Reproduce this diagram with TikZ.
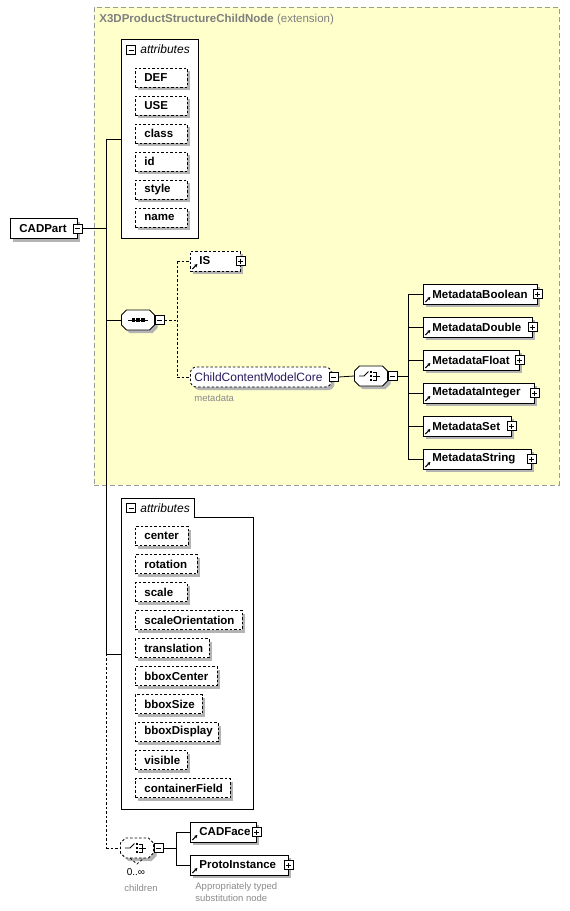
\documentclass[tikz,border=0pt]{standalone}
\usepackage{fontspec}
\setmainfont{Liberation Sans}
\usetikzlibrary{arrows.meta}
\definecolor{ylw}{HTML}{FFFFCC}
\definecolor{shd}{HTML}{B4B4B4}
\definecolor{gtxt}{HTML}{8A8A8A}
\definecolor{ttl}{HTML}{7F7F7F}
\definecolor{ccmc}{HTML}{2A1A5E}
\definecolor{yb}{HTML}{9A9A9A}
\newcommand\fb{\fontsize{11.5}{13}\selectfont\bfseries}
\newcommand\fsm{\fontsize{9.5}{11}\selectfont}
\newcommand\bxt[2]{\makebox[#1pt][l]{\hspace{9pt}#2}}
% attribute box: name, y, width, text
\newcommand\attbox[4]{%
  \node[shbx,minimum width=#3pt,minimum height=19pt] (#1s) at (138,#2+3) {};
  \node[attb] (#1) at (135,#2) {\bxt{#3}{#4}};}
% element box: name, x, y, width, text, style
\newcommand\eltbox[6]{%
  \node[shbx,minimum width=#4pt,minimum height=20pt] (#1s) at (#2+3,#3+3) {};
  \node[#6] (#1) at (#2,#3) {\bxt{#4}{#5}};
  \node[pmplus] (#1p) at (#1.east) {};}
\begin{document}
\begin{tikzpicture}[x=1pt,y=-1pt,line width=0.8pt,
  dsh/.style={dash pattern=on 2.5pt off 2pt},
  shbx/.style={fill=shd,draw=none,inner sep=0pt,anchor=west},
  topelt/.style={draw,fill=white,inner sep=0pt,minimum height=20pt,anchor=west,font=\fb},
  elt/.style={topelt,path picture={\draw[solid,line width=1pt,-{Stealth[length=3.2pt,width=3.4pt]}] ([shift={(2pt,2pt)}]path picture bounding box.south west) -- ++(5pt,5pt);}},
  attb/.style={draw,dsh,fill=white,inner sep=0pt,minimum height=19pt,anchor=west,font=\fb},
  pmbox/.style={draw,solid,fill=white,inner sep=0pt,minimum size=9pt,line width=0.7pt},
  pmminus/.style={pmbox,path picture={\draw ([xshift=2pt]path picture bounding box.west) -- ([xshift=-2pt]path picture bounding box.east);}},
  pmplus/.style={pmbox,path picture={\draw ([xshift=2pt]path picture bounding box.west) -- ([xshift=-2pt]path picture bounding box.east); \draw ([yshift=-2pt]path picture bounding box.north) -- ([yshift=2pt]path picture bounding box.south);}},
  comp/.style={inner sep=0pt,minimum width=33pt,minimum height=20pt},
  octp/.style={insert path={(-11.5,-10) -- (11.5,-10) -- (16.5,-5) -- (16.5,5) -- (11.5,10) -- (-11.5,10) -- (-16.5,5) -- (-16.5,-5) -- cycle}},
  gt/.style={font=\fsm,text=gtxt,inner sep=0pt,anchor=west},
  hdr/.style={font=\fontsize{12}{14}\selectfont\itshape,inner sep=0pt,anchor=west}
]
\useasboundingbox (0,0) rectangle (570,911);
% extension box
\node[draw=yb,dash pattern=on 5pt off 3pt,fill=ylw,inner sep=0pt,minimum width=465pt,minimum height=478pt,anchor=north west] (ext) at (94,7) {};
\node[inner sep=0pt,anchor=west,text=ttl] (exttitle) at (99,20) {\fb X3DProductStructureChildNode \fontsize{11.5}{13}\selectfont\mdseries(extension)};

% attributes group 1
\node[draw,fill=white,inner sep=0pt,minimum width=77pt,minimum height=199pt,anchor=north west] (att1) at (121,39) {};
\node[pmminus] (att1m) at (131,50) {};
\node[hdr] (att1h) at (140,49) {attributes};
\attbox{aDEF}{77.5}{52}{DEF}
\attbox{aUSE}{105.5}{52}{USE}
\attbox{aclass}{133.5}{52}{class}
\attbox{aid}{161.5}{52}{id}
\attbox{astyle}{189.5}{52}{style}
\attbox{aname}{217.5}{52}{name}

% CADPart
\node[shbx,minimum width=67pt,minimum height=20pt] (cads) at (13,231.5) {};
\node[topelt] (cad) at (10,228.5) {\bxt{67}{CADPart}};
\node[pmminus] (cadm) at (cad.east) {};

% sequence
\node[comp] (seq) at (138,320) {};
\begin{scope}[shift={(seq.center)}]
  \fill[shd,shift={(3,3)},octp];
  \draw[fill=white,octp];
  \draw (-10,0) -- (10,0);
  \fill (-6.5,-1.6) rectangle (-3.3,1.6);
  \fill (-1.6,-1.6) rectangle (1.6,1.6);
  \fill (3.3,-1.6) rectangle (6.5,1.6);
\end{scope}
\node[pmminus] (seqm) at ([xshift=5pt]seq.east) {};

% IS
\eltbox{is}{190}{261}{50}{IS}{elt,dsh}

% ChildContentModelCore
\node[shbx,rounded corners=6pt,minimum width=141pt,minimum height=20pt] (ccms) at (193,380) {};
\node[draw,dsh,fill=white,rounded corners=6pt,inner sep=0pt,minimum height=20pt,anchor=west,text=ccmc,font=\fontsize{12}{14}\selectfont] (ccm) at (190,377) {\makebox[141pt][l]{\hspace{4pt}ChildContentModelCore}};
\node[pmminus] (ccmm) at ([xshift=2pt]ccm.east) {};
\node[gt] (lmeta) at (194,398) {metadata};

% choice 1
\node[comp] (ch1) at (371,376) {};
\begin{scope}[shift={(ch1.center)}]
  \fill[shd,shift={(3,3)},octp];
  \draw[fill=white,octp];
  \draw (-12,0) -- (-7,0) -- (-2.5,-4.5);
  \fill (-1.4,-5.4) rectangle (1.4,-2.6);
  \fill (-1.4,-1.4) rectangle (1.4,1.4);
  \fill (-1.4,2.6) rectangle (1.4,5.4);
  \draw (2,-4) -- (5.5,-4) -- (5.5,4) -- (2,4);
  \draw (2,0) -- (9,0);
\end{scope}
\node[pmminus] (ch1m) at ([xshift=5pt]ch1.east) {};

% metadata elements
\eltbox{mb}{423}{294}{114}{MetadataBoolean}{elt}
\eltbox{md}{423}{327}{109}{MetadataDouble}{elt}
\eltbox{mf}{423}{360}{96}{MetadataFloat}{elt}
\eltbox{mi}{423}{393}{111}{MetadataInteger}{elt}
\eltbox{ms}{423}{426}{88}{MetadataSet}{elt}
\eltbox{mstr}{423}{459}{108}{MetadataString}{elt}

% attributes group 2
\node[inner sep=0pt,minimum width=132pt,minimum height=311pt,anchor=north west] (att2) at (121,498) {};
\draw (121,498) -- (194,498) -- (194,517) -- (253,517) -- (253,809) -- (121,809) -- cycle;
\node[pmminus] (att2m) at (131,508) {};
\node[hdr] (att2h) at (140,508) {attributes};
\attbox{bcenter}{536}{53}{center}
\attbox{brot}{564}{62}{rotation}
\attbox{bscale}{592}{52}{scale}
\attbox{bso}{620}{107}{scaleOrientation}
\attbox{btr}{648}{74}{translation}
\attbox{bbc}{676}{82}{bboxCenter}
\attbox{bbs}{704}{67}{bboxSize}
\attbox{bbd}{732}{83}{bboxDisplay}
\attbox{bvis}{760}{52}{visible}
\attbox{bcf}{788}{95}{containerField}

% choice 2
\node[comp] (ch2) at (137,848) {};
\begin{scope}[shift={(ch2.center)}]
  \fill[shd,shift={(3,3)},octp];
  \draw[dsh,fill=white,octp];
  \draw[dsh,line width=0.7pt] (-7,10) -- (0,16) -- (7,10);
  \draw (-12,0) -- (-7,0) -- (-2.5,-4.5);
  \fill (-1.4,-5.4) rectangle (1.4,-2.6);
  \fill (-1.4,-1.4) rectangle (1.4,1.4);
  \fill (-1.4,2.6) rectangle (1.4,5.4);
  \draw (2,-4) -- (5.5,-4) -- (5.5,4) -- (2,4);
  \draw (2,0) -- (9,0);
\end{scope}
\node[pmminus] (ch2m) at ([xshift=5pt]ch2.east) {};
\node[inner sep=0pt,font=\fontsize{10}{12}\selectfont] (occ) at (136,872) {0..∞};
\node[gt,anchor=center] (lchildren) at (141,888) {children};

\eltbox{cadface}{190}{832}{66}{CADFace}{elt}
\eltbox{proto}{190}{865}{98}{ProtoInstance}{elt}
\node[gt] (lsub1) at (195,887) {Appropriately typed};
\node[gt] (lsub2) at (195,898) {substitution node};

% connectors
\coordinate (j1) at (106,228.5);
\draw (cadm.east) -- (j1);
\draw (j1 |- att1.west) -- (j1 |- att2.west);
\draw[dsh] (j1 |- att2.west) -- (j1 |- ch2.west);
\draw (j1 |- att1.west) -- (att1.west);
\draw (j1 |- seq.west) -- (seq.west);
\draw (j1 |- att2.west) -- (att2.west);
\draw[dsh] (j1 |- ch2.west) -- (ch2.west);

\coordinate (j2) at (177,320);
\draw[dsh] (seqm.east) -- (j2);
\draw[dsh] (j2 |- is.west) -- (j2 |- ccm.west);
\draw[dsh] (j2 |- is.west) -- (is.west);
\draw[dsh] (j2 |- ccm.west) -- (ccm.west);

\draw (ccmm.east) -- (ch1.west);
\coordinate (j3) at (408,376);
\draw (ch1m.east) -- (j3);
\draw (j3 |- mb.west) -- (j3 |- mstr.west);
\foreach \n in {mb,md,mf,mi,ms,mstr} \draw (j3 |- \n.west) -- (\n.west);

\coordinate (j4) at (176,848);
\draw (ch2m.east) -- (j4);
\draw (j4 |- cadface.west) -- (j4 |- proto.west);
\draw (j4 |- cadface.west) -- (cadface.west);
\draw (j4 |- proto.west) -- (proto.west);
\end{tikzpicture}
\end{document}
